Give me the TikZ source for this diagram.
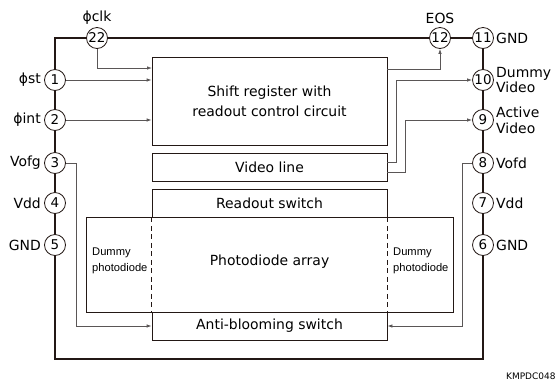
\documentclass[tikz,border=0pt]{standalone}
\usepackage{fontspec}
\setmainfont{DejaVu Sans}
\newfontfamily\narrowfont{Liberation Sans}
\usetikzlibrary{arrows.meta}
\definecolor{rimcol}{HTML}{231815}
\definecolor{wirecol}{HTML}{5A5656}
\tikzset{
  pad/.style={circle, draw=rimcol, fill=white, line width=0.8bp, minimum size=21bp, inner sep=0pt, font=\fontsize{13.5}{13.5}\selectfont},
  padtext/.style={inner sep=0pt, font=\fontsize{14}{16}\selectfont, align=left},
  blk/.style={draw=rimcol, line width=0.8bp, minimum width=235bp, inner sep=0pt, align=center, font=\fontsize{14}{20}\selectfont},
  dummytext/.style={inner sep=0pt, align=left, font=\narrowfont\fontsize{11.2}{16}\selectfont},
  wire/.style={draw=wirecol, line width=0.8bp, -{Latex[length=5bp,width=3.5bp]}},
}
\begin{document}
\begin{tikzpicture}[x=1bp, y=-1bp]
\useasboundingbox (0,0) rectangle (555,385);
\draw[rimcol, line width=2bp] (55,38) rectangle (483,359);
\node[draw=rimcol, line width=0.8bp, minimum width=367bp, minimum height=95bp, inner sep=0pt] (pda) at (269.5,264.5) {};
\node[blk, minimum height=88bp] (shift) at (269.5,101) {Shift register with\\readout control circuit};
\node[blk, minimum height=28bp] (vline) at (269.5,167) {Video line};
\node[blk, minimum height=28bp] (rosw) at (269.5,203) {Readout switch};
\node[blk, minimum height=28bp, fill=white] (absw) at (269.5,326) {Anti-blooming switch};
\draw[rimcol, line width=0.8bp, dash pattern=on 5bp off 3.5bp] (rosw.south west) -- (absw.north west);
\draw[rimcol, line width=0.8bp, dash pattern=on 5bp off 3.5bp] (rosw.south east) -- (absw.north east);
\node[padtext] (pdatext) at (269.5,262) {Photodiode array};
\node[dummytext, anchor=west] (dumleft) at (92,261) {Dummy\\photodiode};
\node[dummytext, anchor=west] (dumright) at (393,261) {Dummy\\photodiode};
\node[pad] (p22) at (97,38) {22};
\node[pad] (p12) at (440,38) {12};
\node[pad] (p11) at (483,38) {11};
\node[pad] (p1) at (55,80) {1};
\node[pad] (p2) at (55,120) {2};
\node[pad] (p3) at (55,163) {3};
\node[pad] (p4) at (55,203) {4};
\node[pad] (p5) at (55,245) {5};
\node[pad] (p10) at (483,80) {10};
\node[pad] (p9) at (483,120) {9};
\node[pad] (p8) at (483,163) {8};
\node[pad] (p7) at (483,203) {7};
\node[pad] (p6) at (483,245) {6};
\node[padtext] (l22) at (97,18) {ϕclk};
\node[padtext] (l12) at (440,18) {EOS};
\node[padtext, anchor=east] (l1) at (41,80) {ϕst};
\node[padtext, anchor=east] (l2) at (41,120) {ϕint};
\node[padtext, anchor=east] (l3) at (41,163) {Vofg};
\node[padtext, anchor=east] (l4) at (41,203) {Vdd};
\node[padtext, anchor=east] (l5) at (41,245) {GND};
\node[padtext, anchor=west] (l11) at (496,38) {GND};
\node[padtext, anchor=west] (l10) at (496,80) {Dummy\\Video};
\node[padtext, anchor=west] (l9) at (496,120) {Active\\Video};
\node[padtext, anchor=west] (l8) at (496,163) {Vofd};
\node[padtext, anchor=west] (l7) at (496,203) {Vdd};
\node[padtext, anchor=west] (l6) at (496,245) {GND};
\coordinate (clkin) at (152,68);
\coordinate (eosout) at (387,69);
\coordinate (dvout) at (387,162);
\coordinate (avout) at (387,172);
\draw[wire] (p22) |- (clkin);
\draw[wire] (p1) -- (p1 -| shift.west);
\draw[wire] (p2) -- (p2 -| shift.west);
\draw[wire] (eosout) -| (p12);
\draw[wire] (dvout) -- ++(9,0) |- (p10);
\draw[wire] (avout) -- ++(18,0) |- (p9);
\draw[wire] (p3) -- ++(21,0) |- (absw.west);
\draw[wire] (p8) -- ++(-21,0) |- (absw.east);
\node[anchor=west, inner sep=0pt, font=\fontsize{9}{9}\selectfont] (code) at (506,376) {KMPDC048};
\end{tikzpicture}
\end{document}
